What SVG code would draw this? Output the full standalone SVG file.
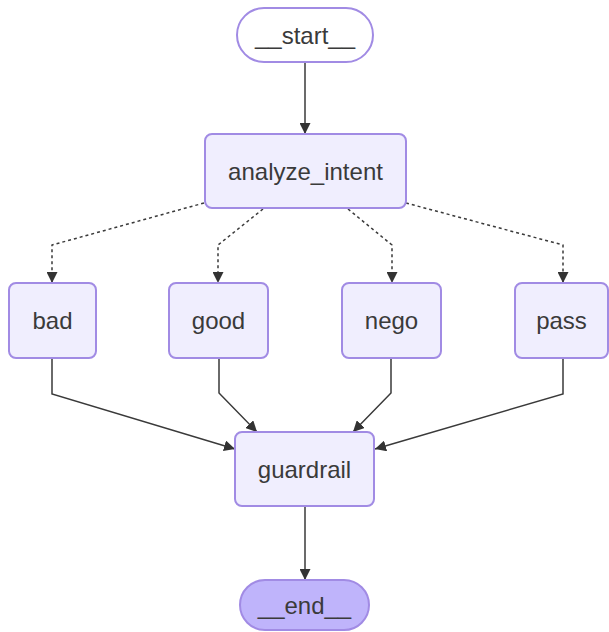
<svg xmlns="http://www.w3.org/2000/svg" width="609" height="632" viewBox="0 0 609 632">
<style>
.node rect{fill:#f0eefe;stroke:#a18be4;stroke-width:2}
.term rect{stroke:#a18be4;stroke-width:2}
.lbl{font-family:"Liberation Sans",Arial,sans-serif;font-size:24px;fill:#3a3a3a;text-anchor:middle;dominant-baseline:central}
.e{fill:none;stroke:#3a3a3a;stroke-width:1.5}
.d{stroke-dasharray:3,3}
</style>
<defs>
<marker id="ah" viewBox="0 0 10 10" refX="10" refY="5" markerWidth="11" markerHeight="11" markerUnits="userSpaceOnUse" orient="auto">
<path d="M0,0 L10,5 L0,10 Z" fill="#333"/>
</marker>
</defs>
<rect width="609" height="632" fill="#ffffff"/>
<g id="edges">
<path class="e" d="M305,62 L305,134" marker-end="url(#ah)"/>
<path class="e d" d="M204,203 L52,245 L52,283" marker-end="url(#ah)"/>
<path class="e d" d="M263,209 L218,245 L218,283" marker-end="url(#ah)"/>
<path class="e d" d="M348,209 L392,245 L392,283" marker-end="url(#ah)"/>
<path class="e d" d="M406,203 L563,245 L563,283" marker-end="url(#ah)"/>
<path class="e" d="M52,358 L52,394 L235,449" marker-end="url(#ah)"/>
<path class="e" d="M219,358 L219,393 L257,432" marker-end="url(#ah)"/>
<path class="e" d="M391,358 L391,393 L353,432" marker-end="url(#ah)"/>
<path class="e" d="M563,358 L563,394 L375,449" marker-end="url(#ah)"/>
<path class="e" d="M305,506 L305,580" marker-end="url(#ah)"/>
</g>
<g id="start" class="term"><rect x="237" y="8" width="136" height="54" rx="27" fill="#ffffff"/><text class="lbl" x="305" y="35">__start__</text></g>
<g id="analyze_intent" class="node"><rect x="205" y="134" width="201" height="74" rx="7"/><text class="lbl" x="305.5" y="171">analyze_intent</text></g>
<g id="bad" class="node"><rect x="9" y="283" width="87" height="75" rx="7"/><text class="lbl" x="52.5" y="320.5">bad</text></g>
<g id="good" class="node"><rect x="169" y="283" width="99" height="75" rx="7"/><text class="lbl" x="218.5" y="320.5">good</text></g>
<g id="nego" class="node"><rect x="342" y="283" width="99" height="75" rx="7"/><text class="lbl" x="391.5" y="320.5">nego</text></g>
<g id="pass" class="node"><rect x="515" y="283" width="93" height="75" rx="7"/><text class="lbl" x="561.5" y="320.5">pass</text></g>
<g id="guardrail" class="node"><rect x="235" y="432" width="139" height="74" rx="7"/><text class="lbl" x="304.5" y="469">guardrail</text></g>
<g id="end" class="term"><rect x="240" y="580" width="129" height="50" rx="25" fill="#bfb4fb"/><text class="lbl" x="304.5" y="605">__end__</text></g>
</svg>
